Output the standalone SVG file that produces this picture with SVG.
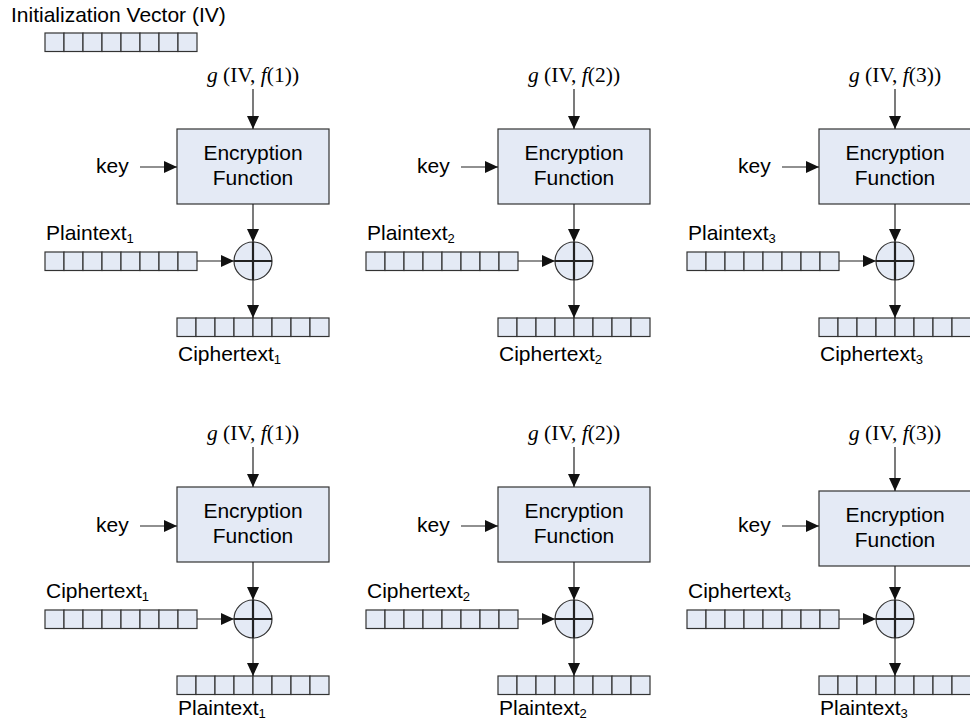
<svg xmlns="http://www.w3.org/2000/svg" xmlns:xlink="http://www.w3.org/1999/xlink" width="970" height="728" viewBox="0 0 970 728">
<style>
.s{font-family:"Liberation Sans",Arial,sans-serif;font-size:21px;fill:#000}
.m{font-family:"Liberation Serif","Times New Roman",serif;font-size:21.5px;fill:#000;text-anchor:middle}
.c{text-anchor:middle}
.box{fill:#E4EAF5;stroke:#333;stroke-width:1.2}
.cell{fill:#E4EAF5;stroke:#333;stroke-width:1.2}
.ar{stroke:#222;stroke-width:1.2;fill:none;marker-end:url(#ah)}
.x{stroke:#222;stroke-width:2.2}
</style>
<defs>
<marker id="ah" markerUnits="userSpaceOnUse" markerWidth="14" markerHeight="12" refX="13" refY="6" orient="auto"><path d="M0,0 L13,6 L0,12 z" fill="#111"/></marker>
<g id="bar">
<rect class="cell" x="0" y="0" width="19" height="18.5"/><rect class="cell" x="19" y="0" width="19" height="18.5"/><rect class="cell" x="38" y="0" width="19" height="18.5"/><rect class="cell" x="57" y="0" width="19" height="18.5"/><rect class="cell" x="76" y="0" width="19" height="18.5"/><rect class="cell" x="95" y="0" width="19" height="18.5"/><rect class="cell" x="114" y="0" width="19" height="18.5"/><rect class="cell" x="133" y="0" width="19" height="18.5"/>
</g>
<g id="xor"><circle cx="0" cy="0" r="19" class="box"/><line class="x" x1="-19" y1="0" x2="19" y2="0"/><line class="x" x1="0" y1="-19" x2="0" y2="19"/></g>
</defs>
<rect width="970" height="728" fill="#fff"/>

<g id="iv">
<text class="s" x="11" y="22">Initialization Vector (IV)</text>
<use xlink:href="#bar" x="45" y="33"/>
</g>

<!-- Row 1 -->
<g id="enc1">
<text class="m" x="253" y="82"><tspan font-style="italic">g</tspan> (IV, <tspan font-style="italic">f</tspan>(1))</text>
<rect class="box" x="177" y="129" width="152" height="75"/>
<text class="s c" x="253" y="160">Encryption</text><text class="s c" x="253" y="185">Function</text>
<text class="s" x="96" y="173">key</text>
<use xlink:href="#xor" x="253" y="261"/>
<use xlink:href="#bar" x="45" y="252"/>
<text class="s" x="46" y="240">Plaintext<tspan font-size="13" dy="3">1</tspan></text>
<use xlink:href="#bar" x="177" y="318"/>
<text class="s" x="178" y="361">Ciphertext<tspan font-size="13" dy="3">1</tspan></text>
</g>
<g id="enc2">
<text class="m" x="574" y="82"><tspan font-style="italic">g</tspan> (IV, <tspan font-style="italic">f</tspan>(2))</text>
<rect class="box" x="498" y="129" width="152" height="75"/>
<text class="s c" x="574" y="160">Encryption</text><text class="s c" x="574" y="185">Function</text>
<text class="s" x="417" y="173">key</text>
<use xlink:href="#xor" x="574" y="261"/>
<use xlink:href="#bar" x="366" y="252"/>
<text class="s" x="367" y="240">Plaintext<tspan font-size="13" dy="3">2</tspan></text>
<use xlink:href="#bar" x="498" y="318"/>
<text class="s" x="499" y="361">Ciphertext<tspan font-size="13" dy="3">2</tspan></text>
</g>
<g id="enc3">
<text class="m" x="895" y="82"><tspan font-style="italic">g</tspan> (IV, <tspan font-style="italic">f</tspan>(3))</text>
<rect class="box" x="819" y="129" width="152" height="75"/>
<text class="s c" x="895" y="160">Encryption</text><text class="s c" x="895" y="185">Function</text>
<text class="s" x="738" y="173">key</text>
<use xlink:href="#xor" x="895" y="261"/>
<use xlink:href="#bar" x="687" y="252"/>
<text class="s" x="688" y="240">Plaintext<tspan font-size="13" dy="3">3</tspan></text>
<use xlink:href="#bar" x="819" y="318"/>
<text class="s" x="820" y="361">Ciphertext<tspan font-size="13" dy="3">3</tspan></text>
</g>

<!-- Row 2 -->
<g id="dec1">
<text class="m" x="253" y="440"><tspan font-style="italic">g</tspan> (IV, <tspan font-style="italic">f</tspan>(1))</text>
<rect class="box" x="177" y="487" width="152" height="75"/>
<text class="s c" x="253" y="518">Encryption</text><text class="s c" x="253" y="543">Function</text>
<text class="s" x="96" y="532">key</text>
<use xlink:href="#xor" x="253" y="619"/>
<use xlink:href="#bar" x="45" y="610"/>
<text class="s" x="46" y="598">Ciphertext<tspan font-size="13" dy="3">1</tspan></text>
<use xlink:href="#bar" x="177" y="676"/>
<text class="s" x="178" y="715">Plaintext<tspan font-size="13" dy="3">1</tspan></text>
</g>
<g id="dec2">
<text class="m" x="574" y="440"><tspan font-style="italic">g</tspan> (IV, <tspan font-style="italic">f</tspan>(2))</text>
<rect class="box" x="498" y="487" width="152" height="75"/>
<text class="s c" x="574" y="518">Encryption</text><text class="s c" x="574" y="543">Function</text>
<text class="s" x="417" y="532">key</text>
<use xlink:href="#xor" x="574" y="619"/>
<use xlink:href="#bar" x="366" y="610"/>
<text class="s" x="367" y="598">Ciphertext<tspan font-size="13" dy="3">2</tspan></text>
<use xlink:href="#bar" x="498" y="676"/>
<text class="s" x="499" y="715">Plaintext<tspan font-size="13" dy="3">2</tspan></text>
</g>
<g id="dec3">
<text class="m" x="895" y="440"><tspan font-style="italic">g</tspan> (IV, <tspan font-style="italic">f</tspan>(3))</text>
<rect class="box" x="819" y="491" width="152" height="75"/>
<text class="s c" x="895" y="522">Encryption</text><text class="s c" x="895" y="547">Function</text>
<text class="s" x="738" y="532">key</text>
<use xlink:href="#xor" x="895" y="619"/>
<use xlink:href="#bar" x="687" y="610"/>
<text class="s" x="688" y="598">Ciphertext<tspan font-size="13" dy="3">3</tspan></text>
<use xlink:href="#bar" x="819" y="676"/>
<text class="s" x="820" y="715">Plaintext<tspan font-size="13" dy="3">3</tspan></text>
</g>

<g id="connectors">
<line class="ar" x1="253" y1="89" x2="253" y2="129"/>
<line class="ar" x1="140" y1="167" x2="177" y2="167"/>
<line class="ar" x1="253" y1="204" x2="253" y2="242"/>
<line class="ar" x1="197" y1="261" x2="234" y2="261"/>
<line class="ar" x1="253" y1="280" x2="253" y2="318"/>

<line class="ar" x1="574" y1="89" x2="574" y2="129"/>
<line class="ar" x1="461" y1="167" x2="498" y2="167"/>
<line class="ar" x1="574" y1="204" x2="574" y2="242"/>
<line class="ar" x1="518" y1="261" x2="555" y2="261"/>
<line class="ar" x1="574" y1="280" x2="574" y2="318"/>

<line class="ar" x1="895" y1="89" x2="895" y2="129"/>
<line class="ar" x1="782" y1="167" x2="819" y2="167"/>
<line class="ar" x1="895" y1="204" x2="895" y2="242"/>
<line class="ar" x1="839" y1="261" x2="876" y2="261"/>
<line class="ar" x1="895" y1="280" x2="895" y2="318"/>

<line class="ar" x1="253" y1="447" x2="253" y2="487"/>
<line class="ar" x1="140" y1="526" x2="177" y2="526"/>
<line class="ar" x1="253" y1="562" x2="253" y2="600"/>
<line class="ar" x1="197" y1="619" x2="234" y2="619"/>
<line class="ar" x1="253" y1="638" x2="253" y2="676"/>

<line class="ar" x1="574" y1="447" x2="574" y2="487"/>
<line class="ar" x1="461" y1="526" x2="498" y2="526"/>
<line class="ar" x1="574" y1="562" x2="574" y2="600"/>
<line class="ar" x1="518" y1="619" x2="555" y2="619"/>
<line class="ar" x1="574" y1="638" x2="574" y2="676"/>

<line class="ar" x1="895" y1="447" x2="895" y2="491"/>
<line class="ar" x1="782" y1="526" x2="819" y2="526"/>
<line class="ar" x1="895" y1="566" x2="895" y2="600"/>
<line class="ar" x1="839" y1="619" x2="876" y2="619"/>
<line class="ar" x1="895" y1="638" x2="895" y2="676"/>
</g>
</svg>
